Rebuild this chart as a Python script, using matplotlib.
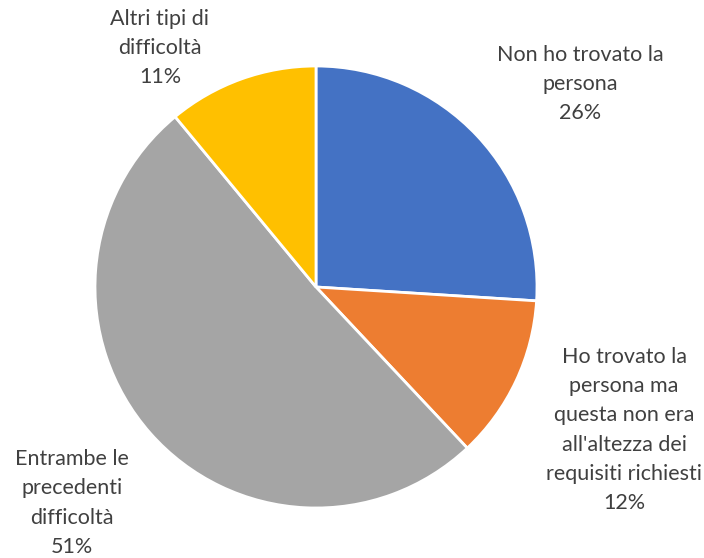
import matplotlib
matplotlib.use("Agg")
import matplotlib.pyplot as plt

# -------------------------
# Data
# -------------------------
labels = [
    "Non ho trovato la\npersona",
    "Ho trovato la\npersona ma\nquesta non era\nall'altezza dei\nrequisiti richiesti",
    "Entrambe le\nprecedenti\ndifficoltà",
    "Altri tipi di\ndifficoltà",
]
values = [26, 12, 51, 11]
colors = ["#4472C4", "#ED7D31", "#A5A5A5", "#FFC000"]

# label anchor positions (pixels, y from top)
label_pos = [(580, 84), (624, 430), (72, 503), (160, 48)]

W, H = 704, 558
fig = plt.figure(figsize=(W / 100, H / 100), dpi=100)
ax = fig.add_axes([0, 0, 1, 1])

ax.pie(values, colors=colors, startangle=90, counterclock=False,
       center=(316, H - 287), radius=221,
       wedgeprops=dict(edgecolor="white", linewidth=2))

for lab, v, (x, y) in zip(labels, values, label_pos):
    ax.text(x, H - y, f"{lab}\n{v}%", ha="center", va="center",
            fontsize=15.5, family="Lato", color="#404040", linespacing=1.58)

ax.set_xlim(0, W)
ax.set_ylim(0, H)
ax.set_aspect("equal")
ax.axis("off")

plt.savefig("out.png", dpi=100)
